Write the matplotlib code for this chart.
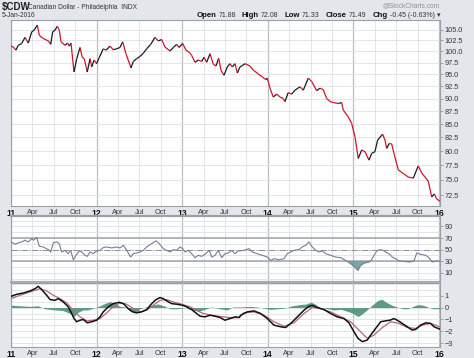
import numpy as np
import matplotlib.pyplot as plt
from matplotlib.collections import LineCollection
from matplotlib.ticker import FixedLocator, NullLocator, FormatStrFormatter

plt.rcParams['font.family'] = ['Liberation Sans', 'DejaVu Sans']

## data: time in years after 1-Jan-2011
price_t = [0.000, 0.027, 0.058, 0.085, 0.125, 0.164, 0.202, 0.242, 0.272, 0.307,
           0.331, 0.370, 0.436, 0.464, 0.487, 0.514, 0.541, 0.564, 0.584, 0.631,
           0.662, 0.681, 0.701, 0.736, 0.768, 0.806, 0.833, 0.856, 0.891, 0.923,
           0.943, 0.970, 1.001, 1.032, 1.078, 1.110, 1.157, 1.195, 1.235, 1.273,
           1.305, 1.343, 1.402, 1.429, 1.468, 1.507, 1.546, 1.585, 1.632, 1.682,
           1.721, 1.761, 1.799, 1.857, 1.896, 1.936, 1.963, 2.006, 2.044, 2.083,
           2.111, 2.150, 2.188, 2.228, 2.255, 2.286, 2.325, 2.363, 2.395, 2.426,
           2.453, 2.488, 2.527, 2.558, 2.585, 2.617, 2.644, 2.675, 2.695, 2.734,
           2.792, 2.831, 2.889, 2.940, 2.979, 2.994, 3.026, 3.064, 3.104, 3.143,
           3.181, 3.201, 3.239, 3.279, 3.318, 3.376, 3.415, 3.473, 3.513, 3.571,
           3.610, 3.648, 3.688, 3.727, 3.765, 3.824, 3.863, 3.882, 3.940, 3.980,
           4.019, 4.057, 4.097, 4.136, 4.182, 4.214, 4.252, 4.283, 4.342, 4.369,
           4.389, 4.419, 4.447, 4.474, 4.525, 4.583, 4.641, 4.700, 4.758, 4.798,
           4.836, 4.875, 4.915, 4.945, 4.973, 5.011]
price = [101.2, 101.0, 100.3, 101.4, 101.8, 103.2, 101.9, 104.5, 104.9, 106.1,
         103.7, 103.0, 102.4, 101.6, 104.5, 104.9, 105.8, 104.9, 102.2, 101.4,
         101.9, 101.2, 101.9, 95.5, 98.4, 100.9, 98.7, 98.4, 95.5, 98.4,
         96.6, 98.1, 97.3, 98.7, 100.6, 100.3, 101.2, 100.4, 100.6, 100.9,
         102.2, 99.5, 96.4, 97.8, 98.4, 98.9, 99.6, 100.6, 101.6, 103.2,
         102.4, 102.7, 101.0, 100.1, 100.9, 101.6, 100.9, 101.8, 100.3, 99.8,
         99.1, 97.6, 98.1, 97.8, 98.7, 97.6, 99.5, 97.2, 96.8, 98.5,
         95.9, 94.8, 96.6, 97.3, 96.6, 97.3, 95.3, 96.6, 96.8, 97.3,
         96.8, 95.9, 95.1, 94.4, 93.9, 94.2, 92.1, 90.3, 90.9, 90.3,
         90.0, 89.4, 91.2, 90.9, 91.7, 92.4, 91.7, 94.2, 93.5, 91.6,
         92.1, 91.8, 90.0, 89.4, 89.2, 89.0, 89.2, 87.7, 86.4, 85.1,
         82.6, 78.7, 80.2, 79.9, 78.4, 79.6, 79.9, 82.0, 83.1, 82.0,
         80.5, 81.4, 81.3, 79.6, 76.7, 76.1, 75.5, 75.3, 77.4, 76.2,
         75.5, 74.8, 72.2, 72.7, 71.9, 71.49]

rsi_t = [0.000, 0.047, 0.085, 0.125, 0.164, 0.202, 0.242, 0.261, 0.300, 0.331,
         0.377, 0.436, 0.464, 0.494, 0.534, 0.564, 0.592, 0.631, 0.669, 0.697,
         0.728, 0.759, 0.798, 0.826, 0.864, 0.891, 0.923, 0.961, 1.001, 1.040,
         1.078, 1.118, 1.176, 1.235, 1.273, 1.312, 1.352, 1.398, 1.429, 1.468,
         1.507, 1.546, 1.585, 1.644, 1.694, 1.732, 1.779, 1.819, 1.857, 1.896,
         1.936, 1.974, 2.006, 2.033, 2.071, 2.111, 2.150, 2.188, 2.228, 2.266,
         2.317, 2.345, 2.383, 2.422, 2.461, 2.500, 2.539, 2.578, 2.617, 2.655,
         2.722, 2.780, 2.819, 2.877, 2.936, 2.994, 3.034, 3.072, 3.131, 3.189,
         3.228, 3.268, 3.306, 3.364, 3.403, 3.443, 3.481, 3.520, 3.560, 3.598,
         3.637, 3.676, 3.735, 3.793, 3.852, 3.910, 3.968, 4.015, 4.054, 4.085,
         4.132, 4.182, 4.209, 4.241, 4.279, 4.319, 4.349, 4.377, 4.416, 4.454,
         4.494, 4.533, 4.591, 4.650, 4.708, 4.740, 4.786, 4.845, 4.883, 4.922,
         4.961, 5.011]
rsi = [63.3, 59.3, 61.6, 63.3, 66.2, 63.3, 69.1, 66.2, 70.9, 55.8,
       54.6, 50.0, 45.9, 61.6, 63.3, 60.4, 45.9, 48.8, 43.0, 48.8,
       32.6, 40.1, 47.7, 45.9, 40.1, 38.4, 45.9, 43.0, 47.7, 48.8,
       53.5, 54.6, 52.9, 54.6, 52.9, 57.5, 48.8, 37.2, 43.0, 44.2,
       45.9, 48.8, 54.6, 60.4, 65.1, 60.4, 51.7, 48.8, 45.9, 50.0,
       48.8, 54.6, 51.7, 45.9, 48.8, 43.0, 36.1, 40.1, 38.4, 41.9,
       48.8, 37.2, 40.1, 48.8, 36.1, 43.0, 44.2, 48.8, 43.0, 47.7,
       48.8, 51.7, 45.9, 43.0, 40.1, 37.2, 31.4, 34.3, 32.6, 34.3,
       43.0, 45.9, 48.8, 50.0, 54.6, 57.5, 63.3, 54.6, 48.8, 45.9,
       47.7, 43.0, 40.1, 37.2, 36.1, 31.4, 25.6, 19.8, 14.0, 22.7,
       26.8, 28.5, 31.4, 40.1, 48.8, 50.0, 48.8, 45.9, 43.0, 37.2,
       34.3, 30.3, 29.7, 28.5, 30.3, 44.2, 41.9, 40.1, 36.1, 28.5,
       30.3, 29.7]

macd_t = [0.000, 0.066, 0.144, 0.222, 0.280, 0.319, 0.359, 0.417, 0.456, 0.514,
          0.553, 0.611, 0.669, 0.709, 0.736, 0.767, 0.806, 0.845, 0.891, 0.943,
          1.001, 1.040, 1.078, 1.137, 1.195, 1.265, 1.312, 1.370, 1.422, 1.468,
          1.527, 1.585, 1.644, 1.694, 1.741, 1.779, 1.819, 1.877, 1.936, 2.006,
          2.053, 2.111, 2.169, 2.208, 2.266, 2.325, 2.383, 2.441, 2.500, 2.558,
          2.617, 2.667, 2.683, 2.761, 2.839, 2.917, 2.994, 3.072, 3.150, 3.209,
          3.268, 3.345, 3.423, 3.481, 3.520, 3.578, 3.657, 3.735, 3.812, 3.890,
          3.948, 4.007, 4.054, 4.104, 4.162, 4.202, 4.260, 4.319, 4.377, 4.428,
          4.474, 4.513, 4.571, 4.630, 4.688, 4.728, 4.786, 4.845, 4.903, 4.942,
          5.011]
macd = [0.94, 1.11, 1.22, 1.39, 1.58, 1.78, 1.50, 1.03, 0.67, 0.61,
        0.75, 0.47, 0.06, -0.50, -0.92, -1.19, -1.06, -1.00, -1.28, -1.19,
        -1.06, -0.78, -0.36, 0.06, 0.33, 0.44, 0.33, -0.08, -0.36, -0.44,
        -0.36, -0.17, 0.33, 0.67, 0.83, 0.75, 0.56, 0.33, 0.28, 0.19,
        0.06, -0.17, -0.50, -0.72, -0.78, -0.64, -0.72, -0.83, -1.06, -0.92,
        -0.78, -0.83, -0.64, -0.36, -0.28, -0.50, -0.92, -1.47, -1.61, -1.67,
        -1.33, -0.78, -0.22, 0.11, 0.19, 0.00, -0.17, -0.50, -0.78, -0.92,
        -1.28, -2.03, -2.58, -2.86, -2.72, -2.31, -1.75, -1.19, -1.11, -1.06,
        -0.92, -1.06, -1.33, -1.61, -1.89, -1.83, -1.47, -1.28, -1.33, -1.61,
        -1.81]

signal_t = [0.000, 0.105, 0.222, 0.339, 0.417, 0.494, 0.572, 0.650, 0.728, 0.806,
            0.884, 0.961, 1.040, 1.118, 1.195, 1.273, 1.352, 1.429, 1.507, 1.585,
            1.662, 1.741, 1.819, 1.896, 1.994, 2.091, 2.169, 2.247, 2.363, 2.480,
            2.597, 2.667, 2.722, 2.839, 2.956, 3.072, 3.189, 3.306, 3.423, 3.520,
            3.618, 3.735, 3.852, 3.968, 4.065, 4.162, 4.241, 4.338, 4.436, 4.533,
            4.630, 4.728, 4.805, 4.903, 5.011]
signal = [0.75, 1.03, 1.31, 1.58, 1.39, 1.03, 0.75, 0.39, -0.22, -0.78,
          -1.11, -1.06, -0.92, -0.44, 0.06, 0.39, 0.28, -0.08, -0.36, -0.22,
          0.19, 0.61, 0.67, 0.47, 0.28, 0.06, -0.22, -0.50, -0.67, -0.78,
          -0.86, -0.83, -0.44, -0.36, -0.64, -1.19, -1.56, -1.28, -0.50, 0.00,
          -0.08, -0.36, -0.78, -1.19, -1.89, -2.58, -2.31, -1.67, -1.19, -1.33,
          -1.67, -1.75, -1.47, -1.33, -1.61]

hist_t = [0.000, 0.105, 0.222, 0.315, 0.397, 0.514, 0.607, 0.689, 0.736, 0.783,
          0.841, 0.899, 0.981, 1.040, 1.098, 1.157, 1.215, 1.273, 1.332, 1.390,
          1.449, 1.507, 1.577, 1.647, 1.717, 1.787, 1.857, 1.951, 2.033, 2.114,
          2.184, 2.266, 2.348, 2.441, 2.523, 2.593, 2.664, 2.683, 2.792, 2.874,
          2.956, 3.026, 3.119, 3.201, 3.283, 3.376, 3.446, 3.505, 3.551, 3.610,
          3.703, 3.773, 3.855, 3.925, 3.984, 4.054, 4.100, 4.159, 4.217, 4.287,
          4.334, 4.381, 4.451, 4.509, 4.579, 4.638, 4.696, 4.755, 4.813, 4.872,
          4.930, 5.011]
hist = [0.20, 0.15, 0.10, 0.15, -0.10, -0.20, -0.25, -0.50, -0.75, -0.40,
        -0.20, -0.20, 0.00, 0.15, 0.35, 0.50, 0.35, 0.10, 0.05, -0.30,
        -0.45, -0.10, 0.05, 0.20, 0.30, 0.15, -0.10, -0.10, 0.00, -0.20,
        -0.30, -0.15, 0.05, -0.10, -0.20, 0.05, 0.05, 0.05, 0.10, 0.05,
        -0.05, -0.15, -0.10, -0.05, 0.15, 0.25, 0.30, 0.45, 0.30, 0.00,
        -0.10, -0.20, -0.15, -0.30, -0.45, -0.75, -0.55, -0.20, 0.20, 0.60,
        0.70, 0.45, 0.20, 0.05, -0.10, -0.10, 0.10, 0.25, 0.20, 0.05,
        -0.10, -0.10]

price_ticks = [72.5, 75.0, 77.5, 80.0, 82.5, 85.0, 87.5, 90.0, 92.5, 95.0,
               97.5, 100.0, 102.5, 105.0]
rsi_ticks = [10, 30, 50, 70, 90]
macd_ticks = [-3, -2, -1, 0, 1]
quarter_names = ['11', 'Apr', 'Jul', 'Oct', '12', 'Apr', 'Jul', 'Oct', '13', 'Apr', 'Jul', 'Oct',
                 '14', 'Apr', 'Jul', 'Oct', '15', 'Apr', 'Jul', 'Oct', '16']
quote = [('Open', '71.88'), ('High', '72.08'), ('Low', '71.33'), ('Close', '71.49'),
         ('Chg', '-0.45 (-0.63%) \u25be')]

# region figure
W, H = 474, 358
fig = plt.figure(figsize=(W / 100, H / 100), dpi=100)
fig.patch.set_facecolor('#e3e7ec')


def box(top, bottom, left=11, right=440):
    return [left / W, 1 - bottom / H, (right - left) / W, (bottom - top) / H]


ax1 = fig.add_axes(box(20, 205.7))
ax2 = fig.add_axes(box(216, 281.5))
ax3 = fig.add_axes(box(282.5, 347.3))

quarters = [2011 + i / 4 for i in range(len(quarter_names))]
grid_c = '#dde1e6'
year_c = '#b9bec6'

for ax in (ax1, ax2, ax3):
    ax.set_facecolor('white')
    ax.set_xlim(2011.0, 2016.012)
    for i, q in enumerate(quarters):
        ax.axvline(q, color=year_c if i % 4 == 0 else grid_c, lw=0.9 if i % 4 == 0 else 0.6, zorder=0)
    for s in ax.spines.values():
        s.set_color('#9aa0a8')
        s.set_linewidth(0.8)
    ax.yaxis.tick_right()
    ax.tick_params(axis='y', length=2, width=0.5, color='#888888', pad=1.5, labelsize=5.3, labelcolor='#333333')
    ax.tick_params(axis='x', length=0, pad=2.2, labelsize=5.3, labelcolor='#333333')
    ax.set_xticks(quarters)
    ax.set_xticklabels(quarter_names)
    for i, lab in enumerate(ax.get_xticklabels()):
        if i % 4 == 0:
            lab.set_fontweight('bold')
            lab.set_fontsize(6.2)
            lab.set_color('#111111')
ax2.tick_params(axis='x', labelbottom=False)
ax2.spines['top'].set_linewidth(1.6)
ax2.spines['bottom'].set_linewidth(1.6)
ax2.spines['bottom'].set_color('#a7abb2')

## price panel
t1 = 2011 + np.array(price_t)
p = np.array(price)
pts = np.column_stack([t1, p]).reshape(-1, 1, 2)
segs = np.concatenate([pts[:-1], pts[1:]], axis=1)
cols = ['#1a1a1a' if b >= a else '#d0142c' for a, b in zip(p[:-1], p[1:])]
ax1.add_collection(LineCollection(segs, colors=cols, linewidths=0.9, zorder=3))
ax1.set_yscale('log')
ax1.set_ylim(70.8, 107.3)
ax1.yaxis.set_major_locator(FixedLocator(price_ticks))
ax1.yaxis.set_minor_locator(NullLocator())
ax1.yaxis.set_major_formatter(FormatStrFormatter('%.1f'))
for v in price_ticks:
    ax1.axhline(v, color=grid_c, lw=0.6, zorder=0)

## RSI panel
t2 = 2011 + np.array(rsi_t)
r = np.array(rsi)
ax2.set_ylim(-5, 108)
for v in range(0, 101, 10):
    ax2.axhline(v, color=grid_c, lw=0.6, zorder=0)
ax2.axhline(70, color='#a0a4aa', lw=1.1, zorder=1)
ax2.axhline(30, color='#a0a4aa', lw=1.1, zorder=1)
ax2.axhline(50, color='#8c9096', lw=0.7, ls='-.', zorder=1)
ax2.fill_between(t2, r, 30, where=r < 30, interpolate=True, color='#5f9a92', alpha=0.85, lw=0, zorder=2)
ax2.fill_between(t2, r, 70, where=r > 70, interpolate=True, color='#5f9a92', alpha=0.85, lw=0, zorder=2)
ax2.plot(t2, r, color='#787d98', lw=0.8, zorder=3)
ax2.set_yticks(rsi_ticks)

## MACD panel
ax3.set_ylim(-3.33, 2.1)
for v in np.arange(-3, 2.01, 0.5):
    ax3.axhline(v, color=grid_c, lw=0.6, zorder=0)
th = 2011 + np.array(hist_t)
ax3.fill_between(th, hist, 0, color='#4a9176', alpha=0.9, lw=0, zorder=2)
ax3.plot(2011 + np.array(signal_t), signal, color='#b8677c', lw=0.9, zorder=3)
ax3.plot(2011 + np.array(macd_t), macd, color='#111111', lw=1.1, zorder=4)
ax3.set_yticks(macd_ticks)

## header texts
def ft(x, y, s, **kw):
    return fig.text(x / W, 1 - y / H, s, va='center', **kw)


ft(2, 7, '$CDW', fontsize=7, fontweight='bold', color='#222222')
ft(28, 7.5, 'Canadian Dollar - Philadelphia  INDX', fontsize=4.8, color='#333333')
ft(2, 15.5, '5-Jan-2016', fontsize=4.8, color='#333333')
ft(440, 5.5, '@StockCharts.com', fontsize=4.8, color='#8a8f96', ha='right')

# lay the quote strip out piece by piece, right-aligned at the panel edge
renderer = fig.canvas.get_renderer()
pieces = []
for name, val in quote:
    pieces.append((name, True, 2.0))
    pieces.append((val, False, 6.0))
objs = []
for s, b, gap in pieces:
    t = ft(0, 15.5, s, fontsize=5.6 if b else 5.0, fontweight='bold' if b else 'normal',
           color='#111111' if b else '#333333')
    objs.append((t, gap))
widths = [t.get_window_extent(renderer).width for t, g in objs]
total = sum(widths) + sum(g for t, g in objs[:-1])
x = 440 - total
for (t, gap), w in zip(objs, widths):
    t.set_x(x / W)
    x += w + gap

plt.savefig('out.png', dpi=100, facecolor=fig.get_facecolor())
# endregion
